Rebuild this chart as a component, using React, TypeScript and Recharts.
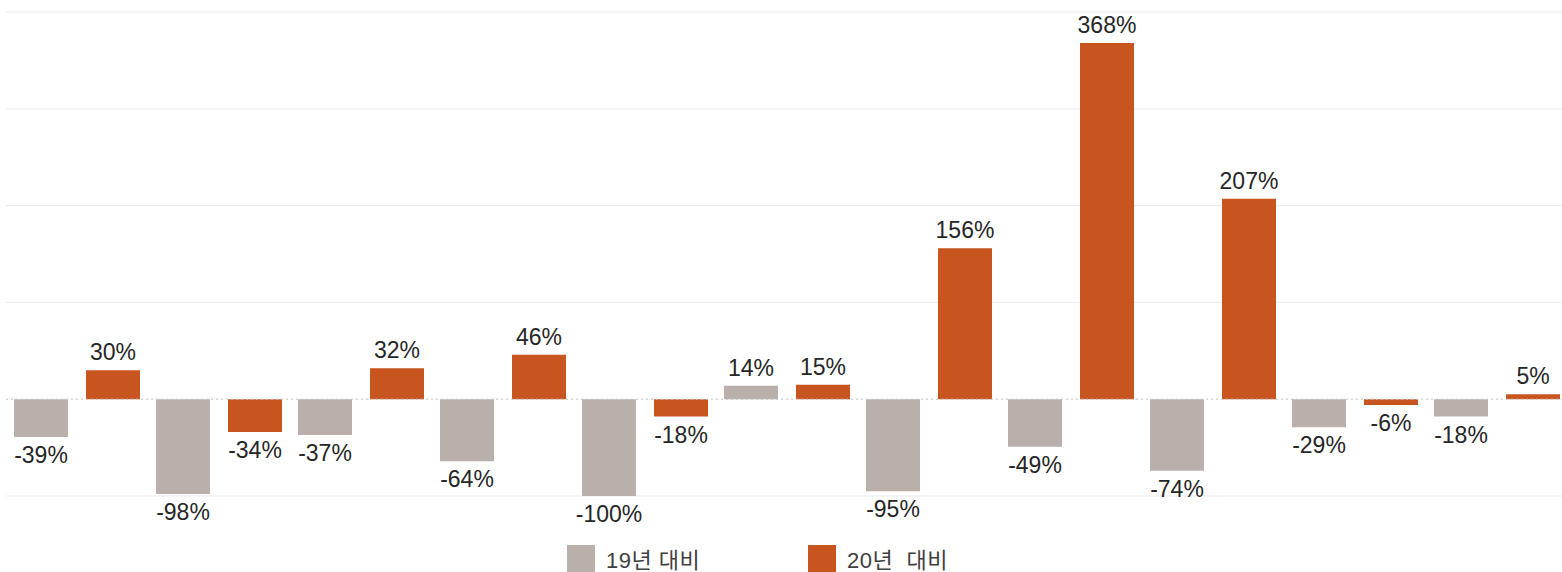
import React from 'react';
import { BarChart, Bar, XAxis, YAxis, CartesianGrid, Legend, LabelList, ReferenceLine } from 'recharts';

const categories = ['1', '2', '3', '4', '5', '6', '7', '8', '9', '10', '11'];
const vs19 = [-39, -98, -37, -64, -100, 14, -95, -49, -74, -29, -18];
const vs20 = [30, -34, 32, 46, -18, 15, 156, 368, 207, -6, 5];
const gridTicks = [-100, 100, 200, 300, 400];
const yDomain = [-100, 400];
const seriesNames = ['19년 대비', '20년  대비'];

const data = categories.map((c, i) => ({ name: c, a: vs19[i], b: vs20[i] }));

const GRAY = '#B9B0AB';
const ORANGE = '#C8541F';
const FONT = '"Liberation Sans", Arial, "Noto Sans CJK KR", sans-serif';

const renderLabel = (props: any) => {
  const { x, y, width, height, value } = props;
  const top = Math.min(y, y + height);
  const bottom = Math.max(y, y + height);
  const cx = x + width / 2;
  const ty = value >= 0 ? top - 10 : bottom + 26;
  return (
    <text x={cx} y={ty} textAnchor="middle" fill="#262626" fontSize={23} fontFamily={FONT}>
      {`${value}%`}
    </text>
  );
};

const renderLegend = (props: any) => {
  const payload = props.payload || [];
  return (
    <div style={{ position: 'relative', height: 0 }}>
      <div style={{ position: 'absolute', left: 561, top: 0, display: 'flex' }}>
        {payload.map((p: any, i: number) => (
          <div key={i} style={{ width: 241, display: 'flex', alignItems: 'flex-start' }}>
            <div style={{ width: 28, height: 28, background: p.color, flex: 'none' }} />
            <span
              style={{
                marginLeft: 11,
                fontSize: 22,
                lineHeight: '28px',
                color: '#404040',
                fontFamily: FONT,
                whiteSpace: 'pre',
                marginTop: 2,
                letterSpacing: 0.5,
              }}
            >
              {p.value}
            </span>
          </div>
        ))}
      </div>
    </div>
  );
};

export default function App() {
  return (
    <div style={{ position: 'fixed', left: 0, top: 0, width: 1562, height: 572, overflow: 'hidden', background: '#fff' }}>
      <div style={{ position: 'absolute', left: 6, top: 0 }}>
        <BarChart
          width={1562}
          height={600}
          data={data}
          margin={{ top: 12, right: 0, bottom: 104, left: 0 }}
          barSize={54}
          barGap={18}
        >
          <XAxis dataKey="name" hide />
          <YAxis hide domain={yDomain} ticks={gridTicks} />
          <CartesianGrid vertical={false} stroke="#ebebeb" />
          <ReferenceLine y={0} stroke="#c4c4c4" strokeDasharray="2 3" />
          <Legend
            content={renderLegend}
            wrapperStyle={{ position: 'absolute', left: 0, top: 545, width: 1562, height: 0 }}
          />
          <Bar dataKey="a" name={seriesNames[0]} fill={GRAY} isAnimationActive={false}>
            <LabelList dataKey="a" content={renderLabel} />
          </Bar>
          <Bar dataKey="b" name={seriesNames[1]} fill={ORANGE} isAnimationActive={false}>
            <LabelList dataKey="b" content={renderLabel} />
          </Bar>
        </BarChart>
      </div>
    </div>
  );
}
